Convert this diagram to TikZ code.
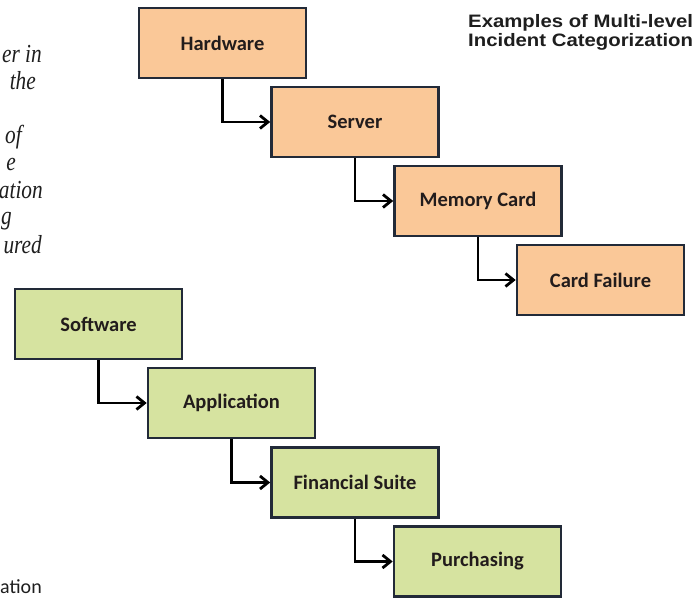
\documentclass[tikz,border=0pt]{standalone}
\usepackage{fontspec}
\setmainfont{Carlito}
\newfontfamily\titlefont{Liberation Sans}
\newfontfamily\bodyserif{Liberation Serif}
\usetikzlibrary{arrows.meta}

\definecolor{hwfill}{RGB}{250,200,152}
\definecolor{swfill}{RGB}{214,227,160}
\definecolor{boxedge}{RGB}{34,42,56}
\definecolor{labeltext}{RGB}{34,28,28}
\definecolor{pagetext}{RGB}{30,30,30}

\begin{document}
\begin{tikzpicture}[x=1pt,y=-1pt,
  catbox/.style={draw=boxedge, line width=2.6pt, minimum width=167pt,
    minimum height=70pt, inner sep=0pt, text=labeltext,
    font=\fontsize{20.5}{24}\selectfont\bfseries},
  hwbox/.style={catbox, fill=hwfill},
  swbox/.style={catbox, fill=swfill},
  link/.style={line width=2.8pt, line join=miter,
    -{Straight Barb[length=8pt,width=13pt]}},
  headline/.style={anchor=base west, inner sep=0pt, text=pagetext,
    font=\titlefont\bfseries\fontsize{18}{21}\selectfont},
  prosefrag/.style={anchor=base east, inner sep=0pt, text=pagetext,
    font=\bodyserif\itshape\fontsize{26}{28}\selectfont},
  captionfrag/.style={anchor=base east, inner sep=0pt, text=pagetext,
    font=\fontsize{20}{24}\selectfont}]

  % page
  \fill[white] (0,0) rectangle (696,597);
  \useasboundingbox (0,0) rectangle (696,597);

  % heading
  \node[headline] (head1) at (468,27.7) {\scalebox{1.13}[1]{Examples of Multi-level}};
  \node[headline] (head2) at (468,46) {\scalebox{1.13}[1]{Incident Categorization}};

  % surrounding page text, cut at the left margin
  \begin{scope}
    \clip (0,0) rectangle (696,597);
    \node[prosefrag] (p1) at (42,62)  {\scalebox{0.82}[1]{er in}};
    \node[prosefrag] (p2) at (36,89)  {\scalebox{0.82}[1]{the}};
    \node[prosefrag] (p3) at (22,143) {\scalebox{0.82}[1]{of}};
    \node[prosefrag] (p4) at (16,170) {\scalebox{0.82}[1]{e}};
    \node[prosefrag] (p5) at (43,198) {\scalebox{0.82}[1]{ation}};
    \node[prosefrag] (p6) at (12,224) {\scalebox{0.82}[1]{g}};
    \node[prosefrag] (p7) at (42,253) {\scalebox{0.82}[1]{ured}};
    \node[captionfrag] (c1) at (42,593) {ation};
  \end{scope}

  % hardware chain
  \node[hwbox] (hw)  at (222.5,43)  {Hardware};
  \node[hwbox] (srv) at (355,122)   {Server};
  \node[hwbox] (mem) at (478,201)   {Memory Card};
  \node[hwbox] (cf)  at (600.5,280) {Card Failure};

  % software chain
  \node[swbox] (sw)  at (98.5,324)  {Software};
  \node[swbox] (app) at (231.5,403) {Application};
  \node[swbox] (fin) at (355,482.5) {Financial Suite};
  \node[swbox] (pur) at (477.5,561.5) {Purchasing};

  % connectors
  \draw[link] (hw.south)  |- (srv.west);
  \draw[link] (srv.south) |- (mem.west);
  \draw[link] (mem.south) |- (cf.west);
  \draw[link] (sw.south)  |- (app.west);
  \draw[link] (app.south) |- (fin.west);
  \draw[link] (fin.south) |- (pur.west);
\end{tikzpicture}
\end{document}
